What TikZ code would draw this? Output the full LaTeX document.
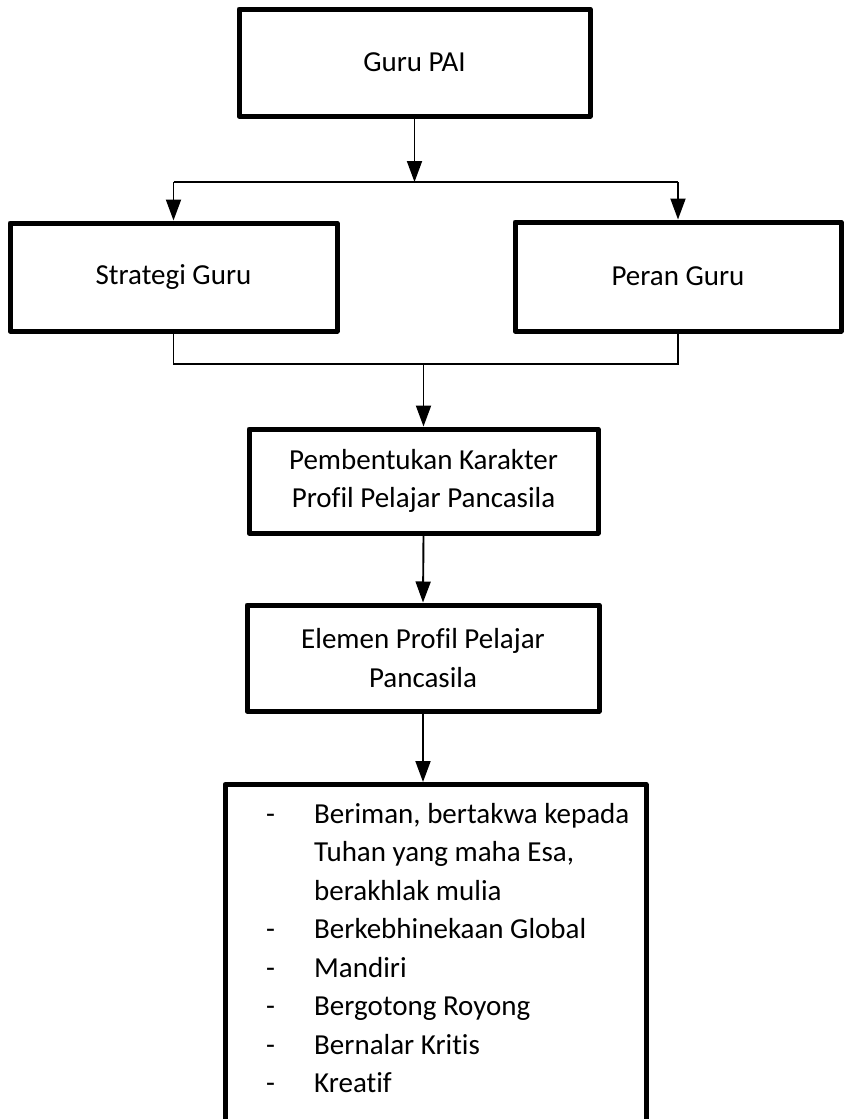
\documentclass[tikz,border=0pt]{standalone}
\usepackage{fontspec}
\setmainfont{Carlito}[Ligatures=NoCommon]
\usetikzlibrary{arrows.meta}
\begin{document}
\begin{tikzpicture}[x=1pt,y=-1pt,
  boxnode/.style={draw, line width=5pt, line join=round, inner sep=0pt, align=center,
    font=\fontsize{29}{38.5}\selectfont},
  conn/.style={line width=1.9pt},
  arr/.style={conn, -{Triangle[width=15pt,length=21pt]}}
]
\useasboundingbox (0,0) rectangle (850,1119);
\clip (0,0) rectangle (850,1119);

\node[boxnode, minimum width=351pt, minimum height=107pt] (guru) at (414.5,62.5) {Guru PAI};
\node[boxnode, minimum width=327pt, minimum height=108pt] (stra) at (173.5,277) {Strategi Guru};
\node[boxnode, minimum width=326pt, minimum height=109pt] (peran) at (678,276.5) {Peran Guru};
\node[boxnode, minimum width=349pt, minimum height=104pt] (pemb) at (423.5,481) {Pembentukan Karakter\\Profil Pelajar Pancasila};
\node[boxnode, minimum width=352pt, minimum height=106pt] (elem) at (423,658) {Elemen Profil Pelajar\\Pancasila};
\node[boxnode, minimum width=421pt, minimum height=400pt, anchor=north] (nilai) at (435.5,782) {};
\node[anchor=base west, inner sep=0pt, font=\fontsize{29}{38.5}\selectfont] (items) at (266,823)
  {\begin{tabular}[t]{@{}p{48pt}@{}l@{}}
  - & Beriman, bertakwa kepada\\
    & Tuhan yang maha Esa,\\
    & berakhlak mulia\\
  - & Berkebhinekaan Global\\
  - & Mandiri\\
  - & Bergotong Royong\\
  - & Bernalar Kritis\\
  - & Kreatif
  \end{tabular}};

\coordinate (split) at (416,182);
\coordinate (join) at (423,364);
\draw[arr] (guru.south) -- (guru.south |- split);
\draw[conn] (stra.north |- split) -- (peran.north |- split);
\draw[arr] (stra.north |- split) -- (stra.north);
\draw[arr] (peran.north |- split) -- (peran.north);
\draw[conn] (stra.south) -- (stra.south |- join) -- (peran.south |- join) -- (peran.south);
\draw[arr] (pemb.north |- join) -- (pemb.north);
\draw[arr] (pemb.south) -- (elem.north);
\draw[arr] (elem.south) -- (elem.south |- nilai.north);
\end{tikzpicture}
\end{document}
